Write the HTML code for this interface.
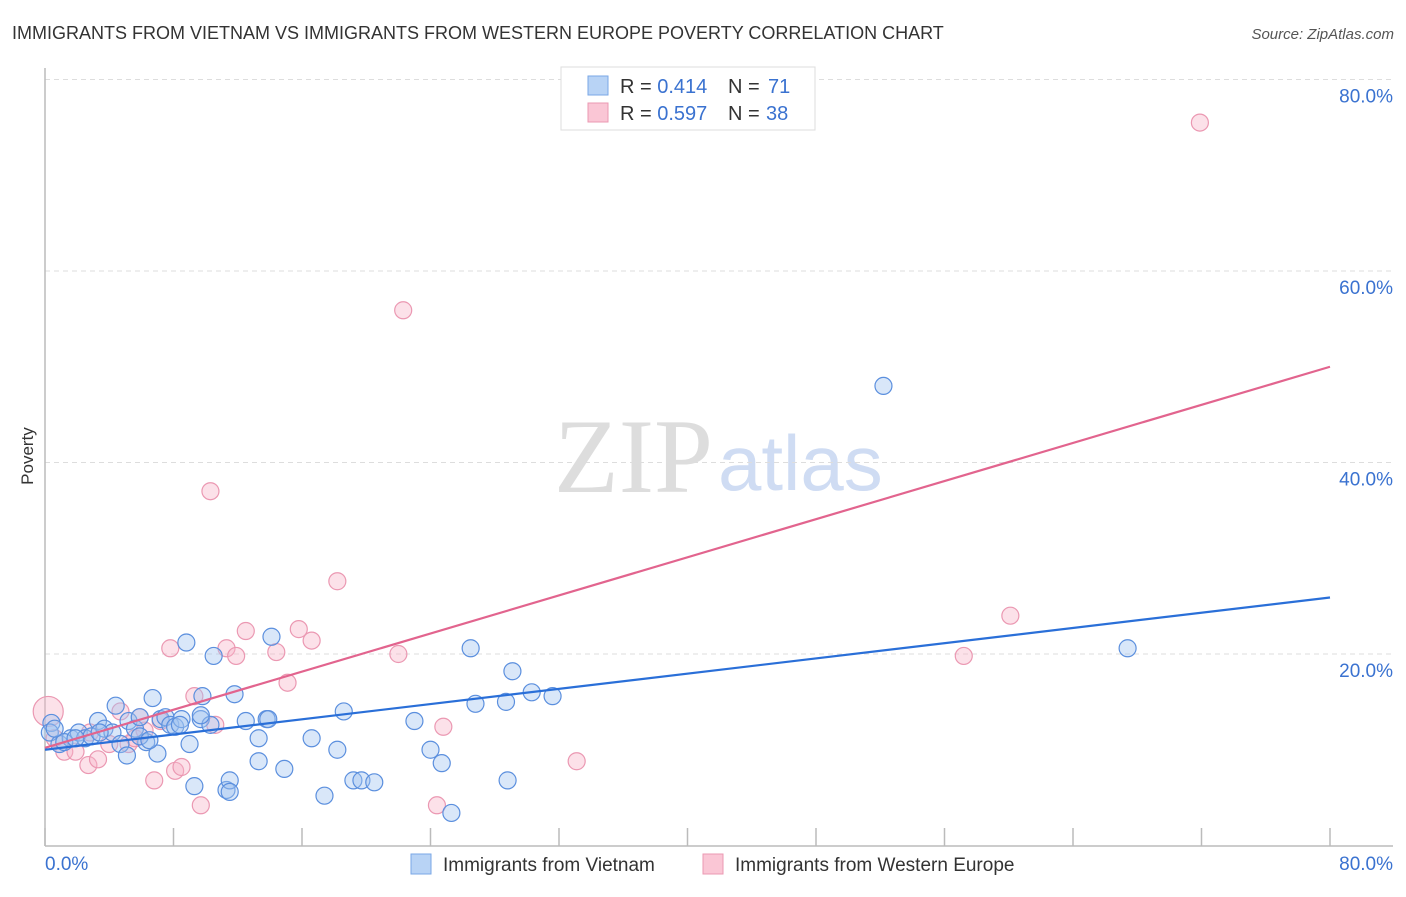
<!DOCTYPE html>
<html><head><meta charset="utf-8"><style>
body{margin:0;background:#fff;font-family:"Liberation Sans",sans-serif}
</style></head><body>
<svg id="c" width="1406" height="892" xmlns="http://www.w3.org/2000/svg">
<text x="12" y="39" font-size="18" fill="#333">IMMIGRANTS FROM VIETNAM VS IMMIGRANTS FROM WESTERN EUROPE POVERTY CORRELATION CHART</text>
<text x="1394" y="39" font-size="15" fill="#555" font-style="italic" text-anchor="end">Source: ZipAtlas.com</text>
<text x="33" y="456" font-size="17" fill="#333" transform="rotate(-90 33 456)" text-anchor="middle">Poverty</text>
<text x="713" y="492" font-size="106" fill="#ddd" text-anchor="end" font-family="Liberation Serif,serif">ZIP</text>
<text x="718" y="490" font-size="78" fill="#cfdcf3">atlas</text>
<g id="grid"></g><g id="axes"></g><g id="pts"></g><g id="lines"></g>
<g>
<rect x="561" y="67" width="254" height="63" fill="#fff" stroke="#ddd"/>
<rect x="588" y="76" width="20" height="19" fill="#b8d3f5" stroke="#7aa7e6"/>
<rect x="588" y="103" width="20" height="19" fill="#fac6d5" stroke="#eb98b2"/>
<text x="620" y="93" font-size="20" fill="#333">R = <tspan fill="#3a72d0">0.414</tspan><tspan x="728">N = </tspan><tspan x="768" fill="#3a72d0">71</tspan></text>
<text x="620" y="120" font-size="20" fill="#333">R = <tspan fill="#3a72d0">0.597</tspan><tspan x="728">N = </tspan><tspan x="766" fill="#3a72d0">38</tspan></text>
</g>
<g>
<rect x="411" y="854" width="20" height="20" fill="#b8d3f5" stroke="#7aa7e6"/>
<text x="443" y="871" font-size="19" fill="#333">Immigrants from Vietnam</text>
<rect x="703" y="854" width="20" height="20" fill="#fac6d5" stroke="#eb98b2"/>
<text x="735" y="871" font-size="19" fill="#333">Immigrants from Western Europe</text>
</g>
</svg>
<script>
const yTicks=[20,40,60,80];
const xTickLabels=["0.0%","80.0%"];
const blueX=[0.4,0.3,0.9,1.6,2.1,2.5,2.9,3.3,3.7,4.2,4.4,4.7,5.1,5.2,5.6,5.9,6.3,6.7,7.0,7.2,7.5,7.8,8.1,8.5,8.8,9.0,9.3,9.7,9.8,10.3,10.5,11.3,11.5,11.5,11.8,12.5,13.3,13.3,13.8,13.9,14.1,14.9,16.6,17.4,18.2,18.6,19.2,19.7,20.5,23.0,24.0,24.7,25.3,26.5,26.8,28.7,28.8,29.1,30.3,31.6,52.2,67.4,1.2,1.9,3.4,5.9,6.5,8.4,9.7,0.6];
const blueY=[12.8,11.8,10.6,11.2,11.8,11.2,11.4,13.0,12.2,11.8,14.6,10.6,9.4,13.0,12.2,13.4,10.8,15.4,9.6,13.2,13.4,12.6,12.4,13.2,21.2,10.6,6.2,13.2,15.6,12.6,19.8,5.8,6.8,5.6,15.8,13.0,11.2,8.8,13.2,13.2,21.8,8.0,11.2,5.2,10.0,14.0,6.8,6.8,6.6,13.0,10.0,8.6,3.4,20.6,14.8,15.0,6.8,18.2,16.0,15.6,48.0,20.6,10.8,11.2,11.8,11.4,11.0,12.6,13.6,12.2];
const pinkX=[0.2,0.6,1.2,1.9,2.7,3.3,4.0,4.7,5.2,5.6,6.2,6.8,7.2,7.8,8.1,8.5,9.3,9.7,10.3,10.6,11.3,11.9,12.5,14.4,15.1,15.8,16.6,18.2,22.0,22.3,24.4,24.8,33.1,57.2,60.1,71.9,2.8,5.9];
const pinkY=[14.0,11.2,9.8,9.8,8.4,9.0,10.6,14.0,10.6,11.2,12.0,6.8,13.0,20.6,7.8,8.2,15.6,4.2,37.0,12.6,20.6,19.8,22.4,20.2,17.0,22.6,21.4,27.6,20.0,55.9,4.2,12.4,8.8,19.8,24.0,75.5,11.8,13.4];
const bigIdx=0;
const blueLine=[10.0,25.9];
const pinkLine=[10.2,50.0];
const NS="http://www.w3.org/2000/svg";
const X=v=>45+v*1285/80, Y=v=>845.5-v*191.5/20;
function mk(t,a,p){const e=document.createElementNS(NS,t);for(const k in a)e.setAttribute(k,a[k]);document.getElementById(p).appendChild(e);return e;}
yTicks.forEach(t=>{
 const l=mk('line',{x1:45,x2:1393,y1:Y(t),y2:Y(t),stroke:'#ddd','stroke-dasharray':'5,4'},'grid');
 
 
 const tx=mk('text',{x:1393,y:Y(t)+23,'font-size':19,fill:'#3a72d0','text-anchor':'end'},'grid');
 tx.textContent=t.toFixed(1)+'%';
 
 
});
const ya=mk('line',{x1:45,x2:45,y1:68,y2:846,stroke:'#bbb','stroke-width':1.5},'axes');


const xa=mk('line',{x1:45,x2:1393,y1:846,y2:846,stroke:'#bbb','stroke-width':1.5},'axes');


for(let i=0;i<=10;i++){const t=mk('line',{x1:X(i*8),x2:X(i*8),y1:828,y2:846,stroke:'#bbb','stroke-width':1.5},'axes');
 
 }
[[0,xTickLabels[0],'start',45],[80,xTickLabels[1],'end',1393]].forEach(d=>{
 const t=mk('text',{x:d[3],y:870,'font-size':19,fill:'#3a72d0','text-anchor':d[2]},'axes');t.textContent=d[1];
 
 });
pinkX.forEach((v,i)=>{const c=mk('circle',{cx:X(v),cy:Y(pinkY[i]),r:i===bigIdx?15:8.5,fill:'rgba(248,180,200,0.4)',stroke:'#eb98b2','stroke-width':1.2},'pts');
 
 });
blueX.forEach((v,i)=>{const c=mk('circle',{cx:X(v),cy:Y(blueY[i]),r:8.5,fill:'rgba(160,195,240,0.4)',stroke:'#5b8fde','stroke-width':1.2},'pts');
 
 });
const pl=mk('line',{x1:X(0),y1:Y(pinkLine[0]),x2:X(80),y2:Y(pinkLine[1]),stroke:'#e2648e','stroke-width':2.2},'lines');


const bl=mk('line',{x1:X(0),y1:Y(blueLine[0]),x2:X(80),y2:Y(blueLine[1]),stroke:'#2a6fd8','stroke-width':2.2},'lines');


</script>
</body></html>
